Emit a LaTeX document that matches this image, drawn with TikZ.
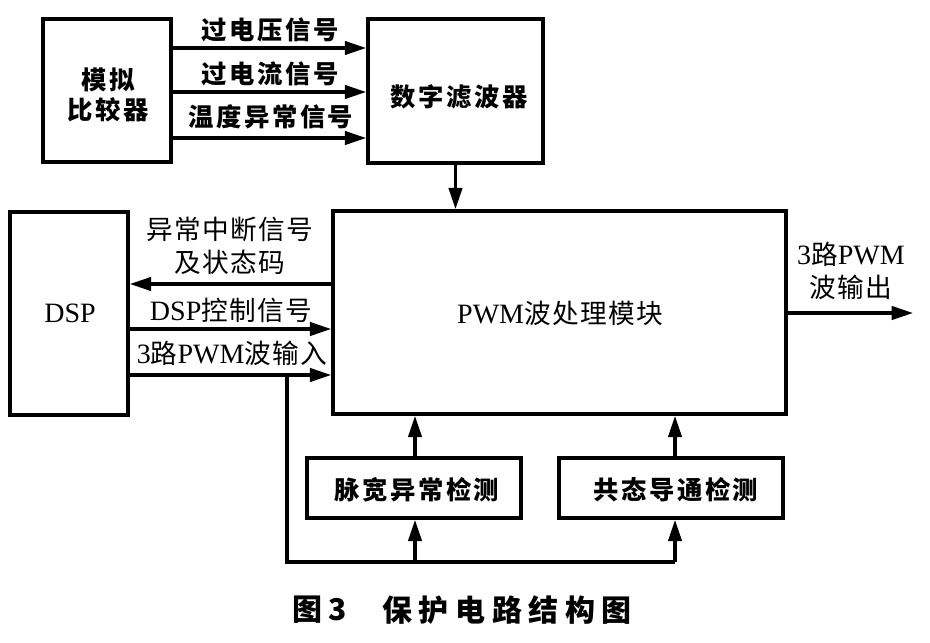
\documentclass[tikz,border=0pt]{standalone}
\usepackage{fontspec}
\setmainfont{Liberation Serif}
\newfontfamily\hei[LetterSpace=10]{Noto Sans CJK SC}
\newfontfamily\song[LetterSpace=5]{Noto Sans CJK SC}
\newfontfamily\capf[LetterSpace=22]{Noto Sans CJK SC}
\usetikzlibrary{arrows.meta,fit}
\newcommand\latn[1]{{\rmfamily\fontsize{21pt}{24.75pt}\selectfont #1}}
\tikzset{
  blk/.style={draw=black, line width=2.7pt, inner sep=0pt, line join=miter},
  arr/.style={line width=2.5pt, -{Triangle[length=16pt,width=10pt]}},
  wire/.style={line width=2.5pt, line join=miter},
  heilbl/.style={inner sep=0pt, font=\hei\bfseries\fontsize{19pt}{22.5pt}\selectfont, align=center},
  songlbl/.style={inner sep=0pt, font=\song\fontsize{20pt}{24.75pt}\selectfont, align=center},
  caplbl/.style={inner sep=0pt, font=\capf\bfseries\fontsize{22.5pt}{26pt}\selectfont},
}
\begin{document}
\begin{tikzpicture}[x=0.75pt,y=-0.75pt]
\useasboundingbox (0,0) rectangle (930,642);
\fill[white] (0,0) rectangle (930,642);
% boxes
\coordinate (mn1) at (43,19);   \coordinate (mn2) at (171,162);
\coordinate (lb1) at (368,19);  \coordinate (lb2) at (543,163);
\coordinate (ds1) at (10,212);  \coordinate (ds2) at (128,415);
\coordinate (pw1) at (333,211); \coordinate (pw2) at (786,414);
\coordinate (mk1) at (307,458); \coordinate (mk2) at (521,518);
\coordinate (gt1) at (559,458); \coordinate (gt2) at (783,518);
\node[blk, fit=(mn1)(mn2)] (mn) {};
\node[blk, fit=(lb1)(lb2)] (lb) {};
\node[blk, fit=(ds1)(ds2)] (dsp) {};
\node[blk, fit=(pw1)(pw2)] (pwm) {};
\node[blk, fit=(mk1)(mk2)] (mk) {};
\node[blk, fit=(gt1)(gt2)] (gt) {};
% box texts
\node[heilbl] (tmn) at (108,95) {模拟\\比较器};
\node[heilbl] (tlb) at (459,97) {数字滤波器};
\node[songlbl] (tds) at (70,313) {\latn{DSP}};
\node[songlbl] (tpw) at (560,313) {\latn{PWM}波处理模块};
\node[heilbl] (tmk) at (417,490) {脉宽异常检测};
\node[heilbl] (tgt) at (676,490) {共态导通检测};
% signal arrows top
\draw[arr] (mn.east |- 0,48) -- (lb.west |- 0,48);
\draw[arr] (mn.east |- 0,92) -- (lb.west |- 0,92);
\draw[arr] (mn.east |- 0,138) -- (lb.west |- 0,138);
\node[heilbl] (l1) at (270,30) {过电压信号};
\node[heilbl] (l2) at (270,74) {过电流信号};
\node[heilbl] (l3) at (271,117) {温度异常信号};
% filter to pwm
\draw[arr] (lb.south) -- (lb.south |- pwm.north);
% dsp <-> pwm
\draw[arr] (pwm.west |- 0,284) -- (dsp.east |- 0,284);
\draw[arr] (dsp.east |- 0,329) -- (pwm.west |- 0,329);
\draw[arr] (dsp.east |- 0,375) -- (pwm.west |- 0,375);
\node[songlbl] (l4) at (230,245.5) {异常中断信号\\及状态码};
\node[songlbl] (l5) at (231,310) {\latn{DSP}控制信号};
\node[songlbl] (l6) at (232,353) {\latn{3}路\latn{PWM}波输入};
% output
\coordinate (out) at (913,313);
\draw[arr] (pwm.east |- out) -- (out);
\node[songlbl] (l7) at (851,270.5) {\latn{3}路\latn{PWM}\\波输出};
% detection feedback
\coordinate (br) at (287,375);
\coordinate (bl) at (287,562);
\coordinate (bm) at (415,562);
\coordinate (bg) at (675,562);
\draw[wire] (br) -- (bl) -- (bg);
\draw[arr] (bm) -- (bm |- mk.south);
\draw[arr] (bg) -- (bg |- gt.south);
\draw[arr] (bm |- mk.north) -- (bm |- pwm.south);
\draw[arr] (bg |- gt.north) -- (bg |- pwm.south);
% caption
\node[caplbl, anchor=west] (cap1) at (292,610) {图3};
\node[caplbl, anchor=west] (cap2) at (382,610) {保护电路结构图};
\end{tikzpicture}
\end{document}
